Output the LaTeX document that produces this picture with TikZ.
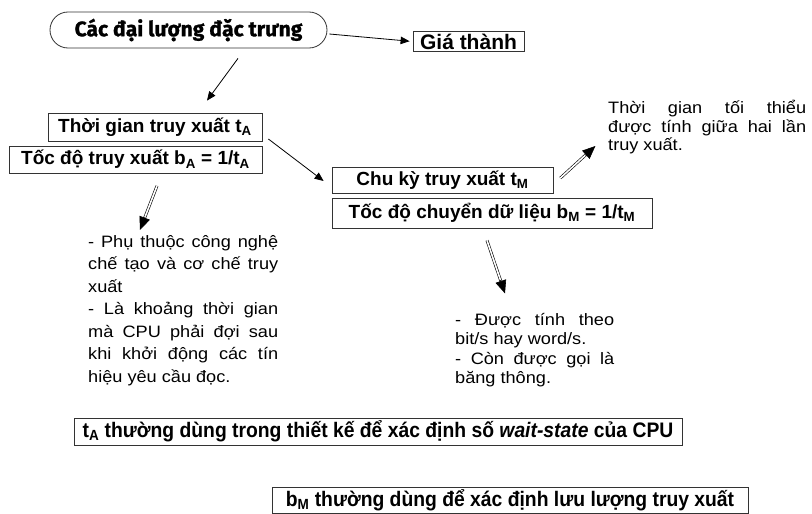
\documentclass[tikz,border=0pt]{standalone}
\usepackage{fontspec}
\setmainfont{Liberation Sans}
\newfontfamily\titlefont[BoldFeatures={FakeBold=1.2}]{Fira Sans}
\newfontfamily\narrowfont[FakeStretch=0.92]{Liberation Sans}
\newfontfamily\widefont[FakeStretch=1.1]{Liberation Sans}
\setlength{\parindent}{0pt}
\usetikzlibrary{arrows.meta,shapes.misc,calc}
\tikzset{
  box/.style={draw=black!80, line width=0.8pt, inner sep=0pt, font=\fontsize{19}{21}\selectfont\bfseries},
  botbox/.style={draw=black!80, line width=0.8pt, inner sep=0pt, font=\narrowfont\fontsize{21}{23}\selectfont\bfseries},
  para/.style={anchor=north west, inner sep=0pt, align=justify},
  arr/.style={-{Triangle[length=9pt,width=7.5pt]}, line width=0.8pt},
  dshaft/.style={double=white, double distance=1.6pt, line width=0.6pt},
  dhead/.style={-{Triangle[length=13pt,width=11pt]}, line width=0.6pt}
}
\newcommand{\dblarrow}[2]{%
  \draw[dshaft] (#1) -- ($(#2)!12pt!(#1)$);
  \draw[dhead] ($(#2)!14pt!(#1)$) -- (#2);}
\begin{document}
\begin{tikzpicture}[x=1pt,y=-1pt]
\useasboundingbox (0,0) rectangle (812,514);
% nodes
\node[rounded rectangle, draw=black!80, line width=0.8pt, minimum width=277pt, minimum height=36pt, inner sep=0pt,
      font=\titlefont\fontsize{21}{23}\selectfont\bfseries] (title) at (188.5,30) {Các đại lượng đặc trưng};
\node[box, minimum width=111pt, minimum height=20pt, font=\fontsize{21}{22}\selectfont\bfseries] (gia) at (468.5,41.5) {Giá thành};
\node[box, minimum width=214pt, minimum height=28pt] (tA) at (155,127) {Thời gian truy xuất t\textsubscript{A}};
\node[box, minimum width=253pt, minimum height=27pt] (bA) at (135.5,159.5) {Tốc độ truy xuất b\textsubscript{A} = 1/t\textsubscript{A}};
\node[box, minimum width=221pt, minimum height=26pt] (tM) at (442.5,180) {Chu kỳ truy xuất t\textsubscript{M}};
\node[box, minimum width=320pt, minimum height=30pt] (bM) at (492,213) {Tốc độ chuyển dữ liệu b\textsubscript{M} = 1/t\textsubscript{M}};
\node[para, text width=198pt, font=\widefont\fontsize{16.5}{18.7}\selectfont] (tr) at (608,100) {Thời gian tối thiểu\linebreak được tính giữa hai lần\linebreak truy xuất.};
\node[para, text width=190pt, font=\widefont\fontsize{16.5}{22.5}\selectfont] (lt) at (88,235) {- Phụ thuộc công nghệ\linebreak chế tạo và cơ chế truy\linebreak xuất\par
  - Là khoảng thời gian\linebreak mà CPU phải đợi sau\linebreak khi khởi động các tín\linebreak hiệu yêu cầu đọc.};
\node[para, text width=159pt, font=\widefont\fontsize{16.5}{19.4}\selectfont] (rt) at (455,313) {- Được tính theo\linebreak bit/s hay word/s.\par - Còn được gọi là\linebreak băng thông.};
\node[botbox, minimum width=608pt, minimum height=27pt] (b1) at (378,431.5) {t\textsubscript{A} thường dùng trong thiết kế để xác định số \textit{wait-state} của CPU};
\node[botbox, minimum width=476pt, minimum height=26pt] (b2) at (510,500) {b\textsubscript{M} thường dùng để xác định lưu lượng truy xuất};
% connector end points
\coordinate (a2s) at ($(title.south)+(49.5,10)$);
\coordinate (a2e) at ($(tA.north)+(52,-12)$);
\coordinate (a3s) at ($(tA.east)+(6,12)$);
\coordinate (a3e) at ($(tM.west)+(-8,1)$);
\coordinate (dAs) at ($(bA.south)+(21.5,12.5)$);
\coordinate (dAe) at ($(bA.south)+(4.5,56.5)$);
\coordinate (dBs) at ($(tM.east)+(7,-2)$);
\coordinate (dBe) at ($(tM.east)+(42,-34)$);
\coordinate (dCs) at ($(bM.south)+(-5,12)$);
\coordinate (dCe) at ($(bM.south)+(13,65)$);
% connectors
\draw[arr, shorten >=3pt] ([xshift=2pt,yshift=-4pt]title.east) -- (gia.west);
\draw[arr] (a2s) -- (a2e);
\draw[arr] (a3s) -- (a3e);
\dblarrow{dAs}{dAe}
\dblarrow{dBs}{dBe}
\dblarrow{dCs}{dCe}
\end{tikzpicture}
\end{document}
